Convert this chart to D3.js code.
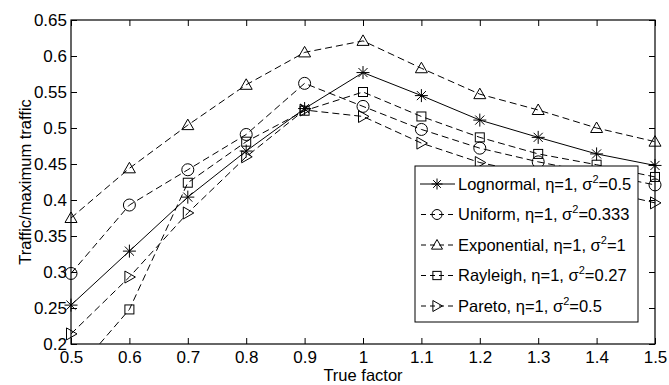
<!DOCTYPE html>
<html>
<head>
<meta charset="utf-8">
<script src="https://cdn.jsdelivr.net/npm/d3@7"></script>
<style>
  body { margin: 0; background: #fff; }
  text { font-family: "Liberation Sans", Arial, sans-serif; fill: #000; }
</style>
</head>
<body>
<div id="chart"></div>
<script>
// data
const factors = [0.5, 0.6, 0.7, 0.8, 0.9, 1.0, 1.1, 1.2, 1.3, 1.4, 1.5];
const lognormal   = [0.254, 0.329, 0.404, 0.468, 0.527, 0.577, 0.545, 0.511, 0.487, 0.464, 0.448];
const uniform     = [0.298, 0.393, 0.442, 0.491, 0.562, 0.530, 0.498, 0.472, 0.453, 0.437, 0.421];
const exponential = [0.375, 0.444, 0.504, 0.560, 0.605, 0.621, 0.583, 0.547, 0.525, 0.500, 0.481];
const rayleigh    = [0.154, 0.248, 0.424, 0.481, 0.524, 0.550, 0.516, 0.487, 0.464, 0.449, 0.432];
const pareto      = [0.214, 0.293, 0.382, 0.460, 0.525, 0.516, 0.479, 0.452, 0.435, 0.415, 0.396];
const xTicks = [0.5, 0.6, 0.7, 0.8, 0.9, 1, 1.1, 1.2, 1.3, 1.4, 1.5];
const yTicks = [0.2, 0.25, 0.3, 0.35, 0.4, 0.45, 0.5, 0.55, 0.6, 0.65];

const series = [
    { name: "Lognormal", s2: "0.5", values: lognormal, marker: "star", dash: null },
    { name: "Uniform", s2: "0.333", values: uniform, marker: "circle", dash: "7,4" },
    { name: "Exponential", s2: "1", values: exponential, marker: "triangle", dash: "7,4" },
    { name: "Rayleigh", s2: "0.27", values: rayleigh, marker: "square", dash: "7,4" },
    { name: "Pareto", s2: "0.5", values: pareto, marker: "right", dash: "7,4" }
];

const W = 669, H = 385;
const margin = { top: 20, right: 14, bottom: 41, left: 71 };
const width = W - margin.left - margin.right;
const height = H - margin.top - margin.bottom;

const svg = d3.select("#chart").append("svg")
    .attr("width", W)
    .attr("height", H);

const g = svg.append("g")
    .attr("transform", `translate(${margin.left},${margin.top})`);

const x = d3.scaleLinear().domain([0.5, 1.5]).range([0, width]);
const y = d3.scaleLinear().domain([0.2, 0.65]).range([height, 0]);

g.append("clipPath").attr("id", "plotclip")
    .append("rect").attr("width", width).attr("height", height);

// marker shapes, drawn around 0,0
function drawMarker(sel, type, s) {
    if (type === "star") {
        const a = s * 0.7;
        sel.append("path")
            .attr("d", `M${-s},0H${s}M0,${-s}V${s}M${-a},${-a}L${a},${a}M${-a},${a}L${a},${-a}`)
            .attr("stroke", "#000").attr("fill", "none").attr("stroke-width", 1);
    } else if (type === "circle") {
        sel.append("circle").attr("r", s)
            .attr("stroke", "#000").attr("fill", "none").attr("stroke-width", 1);
    } else if (type === "triangle") {
        sel.append("path")
            .attr("d", `M0,${-s}L${s},${s * 0.75}L${-s},${s * 0.75}Z`)
            .attr("stroke", "#000").attr("fill", "none").attr("stroke-width", 1);
    } else if (type === "square") {
        const h = s * 0.75;
        sel.append("rect").attr("x", -h).attr("y", -h).attr("width", 2 * h).attr("height", 2 * h)
            .attr("stroke", "#000").attr("fill", "none").attr("stroke-width", 1);
    } else if (type === "right") {
        sel.append("path")
            .attr("d", `M${s},0L${-s * 0.75},${-s}L${-s * 0.75},${s}Z`)
            .attr("stroke", "#000").attr("fill", "none").attr("stroke-width", 1);
    }
}

// axes with inward ticks
const xAxis = d3.axisBottom(x).tickValues(xTicks).tickSize(-6).tickPadding(7)
    .tickFormat(d => d3.format("")(+d.toFixed(1)));
const yAxis = d3.axisLeft(y).tickValues(yTicks).tickSize(-6).tickPadding(4)
    .tickFormat(d => d3.format("")(+d.toFixed(2)));

g.append("g").attr("class", "x-axis")
    .attr("transform", `translate(0,${height})`)
    .call(xAxis);
g.append("g").attr("class", "y-axis")
    .call(yAxis);
g.append("g").attr("transform", "translate(0,0)")
    .call(d3.axisTop(x).tickValues(xTicks).tickSize(-6).tickFormat(""));
g.append("g").attr("transform", `translate(${width},0)`)
    .call(d3.axisRight(y).tickValues(yTicks).tickSize(-6).tickFormat(""));

g.selectAll(".domain").remove();
g.selectAll(".tick line").attr("stroke", "#000");
g.selectAll(".tick text").style("font-size", "17px").attr("fill", "#000");

g.append("rect")
    .attr("width", width).attr("height", height)
    .attr("fill", "none").attr("stroke", "#000").attr("stroke-width", 1.2);

// lines and markers
const line = d3.line()
    .x((d, i) => x(factors[i]))
    .y(d => y(d));

series.forEach(s => {
    g.append("path")
        .datum(s.values)
        .attr("clip-path", "url(#plotclip)")
        .attr("d", line)
        .attr("fill", "none")
        .attr("stroke", "#000")
        .attr("stroke-width", 1)
        .attr("stroke-dasharray", s.dash);

    s.values.forEach((v, i) => {
        if (v < 0.2 || v > 0.65) return;
        const m = g.append("g").attr("transform", `translate(${x(factors[i])},${y(v)})`);
        drawMarker(m, s.marker, s.marker === "star" ? 6.5 : 6);
    });
});

// legend
const legend = svg.append("g").attr("class", "legend")
    .attr("transform", "translate(415,166)");
legend.append("rect")
    .attr("width", 223).attr("height", 156)
    .attr("fill", "#fff").attr("stroke", "#000").attr("stroke-width", 1);

const item = legend.selectAll(".legend-item")
    .data(series)
    .enter().append("g")
    .attr("class", "legend-item")
    .attr("transform", (d, i) => `translate(0,${18 + i * 30.5})`);

item.append("line")
    .attr("x1", 5).attr("x2", 40)
    .attr("stroke", "#000").attr("stroke-width", 1)
    .attr("stroke-dasharray", d => d.dash ? "5,4" : null)
    .attr("stroke-dashoffset", d => d.dash ? -1 : 0);
item.each(function (d) {
    const m = d3.select(this).append("g").attr("transform", "translate(22,0)");
    drawMarker(m, d.marker, d.marker === "circle" ? 5 : 5.5);
});

const label = item.append("text")
    .attr("x", 43)
    .attr("dy", "0.35em")
    .style("font-size", "16.5px");
label.append("tspan").text(d => d.name + ", \u03b7=1, \u03c3");
label.append("tspan").attr("dy", -7).style("font-size", "11px").text("2");
label.append("tspan").attr("dy", 7).text(d => "=" + d.s2);

// axis titles
svg.append("text")
    .attr("x", margin.left + width / 2)
    .attr("y", 381)
    .attr("text-anchor", "middle")
    .style("font-size", "16.5px")
    .text("True factor");

svg.append("text")
    .attr("transform", `translate(31,${margin.top + height / 2}) rotate(-90)`)
    .attr("text-anchor", "middle")
    .style("font-size", "16.5px")
    .text("Traffic/maximum traffic");
</script>
</body>
</html>
